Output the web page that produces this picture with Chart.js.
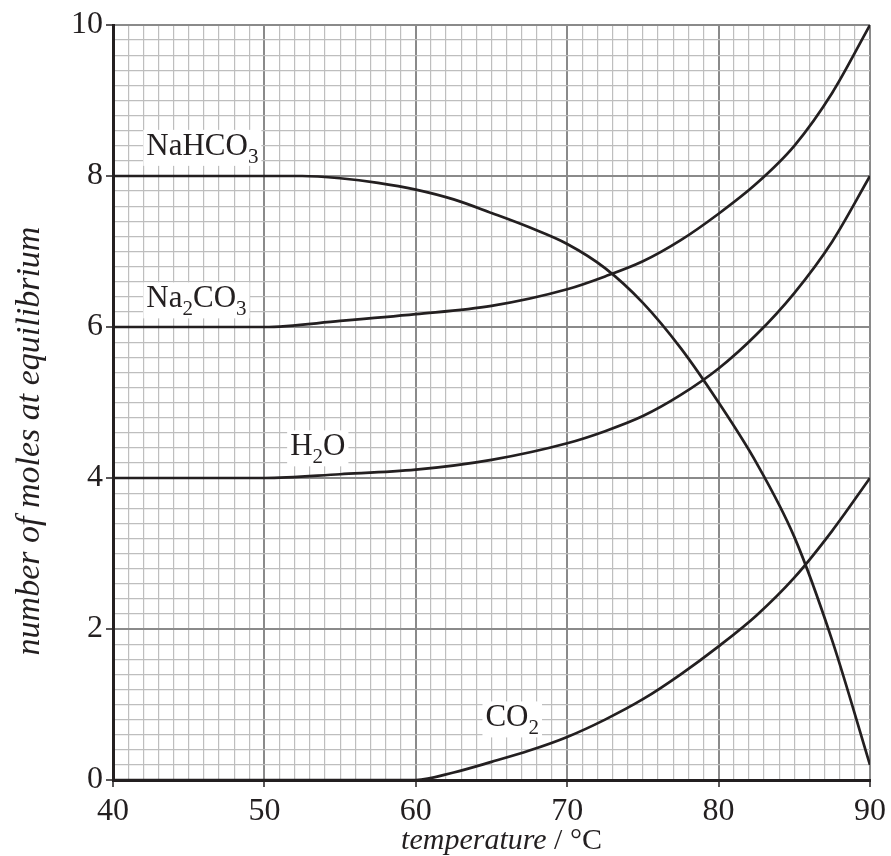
<!DOCTYPE html>
<html>
<head>
<meta charset="utf-8">
<script src="https://cdn.jsdelivr.net/npm/chart.js@4"></script>
<style>
  html, body { margin: 0; padding: 0; background: #ffffff; }
  #wrap { width: 891px; height: 856px; position: relative; }
</style>
</head>
<body>
<div id="wrap"><canvas id="c" width="891" height="856"></canvas></div>
<script>
// ---- data ----
const xTickLabels = [40, 50, 60, 70, 80, 90];
const yTickLabels = [0, 2, 4, 6, 8, 10];

const tempNaHCO3 = [40, 50, 52.5, 55, 57.5, 60, 62.5, 65, 67.5, 70, 72.5, 75, 77.5, 80, 82.5, 85, 87.5, 90];
const molNaHCO3  = [8, 8, 8.0, 7.97, 7.91, 7.82, 7.69, 7.51, 7.32, 7.1, 6.78, 6.32, 5.72, 5.0, 4.2, 3.22, 1.85, 0.2];

const tempNa2CO3 = [40, 50, 55, 60, 65, 70, 72.5, 75, 77.5, 80, 82.5, 85, 87.5, 90];
const molNa2CO3  = [6, 6, 6.08, 6.17, 6.28, 6.5, 6.67, 6.87, 7.15, 7.5, 7.9, 8.4, 9.1, 10];

const tempH2O = [40, 50, 55, 60, 65, 70, 72.5, 75, 77.5, 80, 82.5, 85, 87.5, 90];
const molH2O  = [4, 4, 4.05, 4.11, 4.24, 4.46, 4.62, 4.82, 5.1, 5.45, 5.9, 6.45, 7.13, 8.0];

const tempCO2 = [40, 60, 62.5, 65, 67.5, 70, 72.5, 75, 77.5, 80, 82.5, 85, 87.5, 90];
const molCO2  = [0, 0, 0.1, 0.24, 0.39, 0.57, 0.8, 1.07, 1.4, 1.77, 2.18, 2.68, 3.3, 4.0];

// curve labels: text parts (with subscript flag), anchor in data units
const curveLabels = [
  { parts: [['NaHCO', false], ['3', true]], x: 42.2, y: 8.28 },
  { parts: [['Na', false], ['2', true], ['CO', false], ['3', true]], x: 42.2, y: 6.26 },
  { parts: [['H', false], ['2', true], ['O', false]], x: 51.7, y: 4.30 },
  { parts: [['CO', false], ['2', true]], x: 64.6, y: 0.71 }
];

const xTitleItalic = 'temperature';
const xTitleNormal = ' / °C';
const yTitle = 'number of moles at equilibrium';

// ---- helpers ----
function pts(xs, ys) { return xs.map((x, i) => ({ x: x, y: ys[i] })); }
const INK = '#231f20';
const FONT = '"Liberation Serif", "Times New Roman", serif';

function isMajorX(v) { return Math.abs(v / 10 - Math.round(v / 10)) < 1e-6; }
function isMajorY(v) { return Math.abs(v / 2 - Math.round(v / 2)) < 1e-6; }

const lineStyle = {
  borderColor: INK,
  borderWidth: 2.7,
  pointRadius: 0,
  fill: false,
  cubicInterpolationMode: 'monotone'
};

const overlayPlugin = {
  id: 'overlay',
  afterDatasetsDraw(chart) {
    const ctx = chart.ctx;
    const xs = chart.scales.x, ys = chart.scales.y;
    const MAIN = '31px ', SUB = '21px ';
    curveLabels.forEach(lab => {
      const px = xs.getPixelForValue(lab.x);
      const py = ys.getPixelForValue(lab.y);
      let w = 0;
      lab.parts.forEach(p => {
        ctx.font = (p[1] ? SUB : MAIN) + FONT;
        w += ctx.measureText(p[0]).width;
      });
      ctx.fillStyle = '#ffffff';
      ctx.fillRect(px - 3, py - 25, w + 6, 36);
      let cx = px;
      ctx.fillStyle = INK;
      ctx.textBaseline = 'alphabetic';
      ctx.textAlign = 'left';
      lab.parts.forEach(p => {
        ctx.font = (p[1] ? SUB : MAIN) + FONT;
        ctx.fillText(p[0], cx, p[1] ? py + 8 : py);
        cx += ctx.measureText(p[0]).width;
      });
    });
    // x title
    const area = chart.chartArea;
    ctx.fillStyle = INK;
    ctx.textBaseline = 'alphabetic';
    ctx.textAlign = 'left';
    ctx.font = 'italic 30px ' + FONT;
    const w1 = ctx.measureText(xTitleItalic).width;
    ctx.font = '30px ' + FONT;
    const w2 = ctx.measureText(xTitleNormal).width;
    const start = (area.left + area.right) / 2 + 10 - (w1 + w2) / 2;
    ctx.font = 'italic 30px ' + FONT;
    ctx.fillText(xTitleItalic, start, 849);
    ctx.font = '30px ' + FONT;
    ctx.fillText(xTitleNormal, start + w1, 849);
    // y title
    ctx.save();
    ctx.translate(39, 441);
    ctx.rotate(-Math.PI / 2);
    ctx.textAlign = 'center';
    ctx.font = 'italic 34px ' + FONT;
    ctx.fillText(yTitle, 0, 0);
    ctx.restore();
  }
};

new Chart(document.getElementById('c'), {
  type: 'line',
  data: {
    datasets: [
      Object.assign({ label: 'NaHCO3', data: pts(tempNaHCO3, molNaHCO3) }, lineStyle),
      Object.assign({ label: 'Na2CO3', data: pts(tempNa2CO3, molNa2CO3) }, lineStyle),
      Object.assign({ label: 'H2O', data: pts(tempH2O, molH2O) }, lineStyle),
      Object.assign({ label: 'CO2', data: pts(tempCO2, molCO2) }, lineStyle)
    ]
  },
  options: {
    responsive: false,
    animation: false,
    devicePixelRatio: 1,
    layout: { padding: { top: 25, right: 21, left: 0, bottom: 0 } },
    plugins: { legend: { display: false }, tooltip: { enabled: false } },
    scales: {
      x: {
        type: 'linear',
        min: xTickLabels[0],
        max: xTickLabels[xTickLabels.length - 1],
        afterFit(s) { s.height = 76; },
        border: { display: true, color: INK, width: 3, z: 1 },
        grid: {
          color: c => isMajorX(c.tick.value) ? '#8a8a8a' : '#bebebe',
          lineWidth: c => isMajorX(c.tick.value) ? 2 : 1.2,
          tickColor: c => isMajorX(c.tick.value) ? INK : 'rgba(0,0,0,0)',
          tickLength: 7,
          tickWidth: 1.5
        },
        ticks: {
          stepSize: 1,
          autoSkip: false,
          maxRotation: 0,
          padding: 5,
          color: INK,
          font: { family: FONT, size: 32 },
          callback: v => (isMajorX(v) && xTickLabels.indexOf(Math.round(v)) >= 0) ? String(Math.round(v)) : ''
        }
      },
      y: {
        type: 'linear',
        min: yTickLabels[0],
        max: yTickLabels[yTickLabels.length - 1],
        afterFit(s) { s.width = 113; },
        border: { display: true, color: INK, width: 3, z: 1 },
        grid: {
          color: c => isMajorY(c.tick.value) ? '#8a8a8a' : '#bebebe',
          lineWidth: c => isMajorY(c.tick.value) ? 2 : 1.2,
          tickColor: c => isMajorY(c.tick.value) ? INK : 'rgba(0,0,0,0)',
          tickLength: 7,
          tickWidth: 1.5
        },
        ticks: {
          stepSize: 0.2,
          autoSkip: false,
          padding: 3,
          color: INK,
          font: { family: FONT, size: 32 },
          callback: v => {
            const r = Math.round(v);
            return (isMajorY(v) && yTickLabels.indexOf(r) >= 0) ? String(r) : '';
          }
        }
      }
    }
  },
  plugins: [overlayPlugin]
});
</script>
</body>
</html>
